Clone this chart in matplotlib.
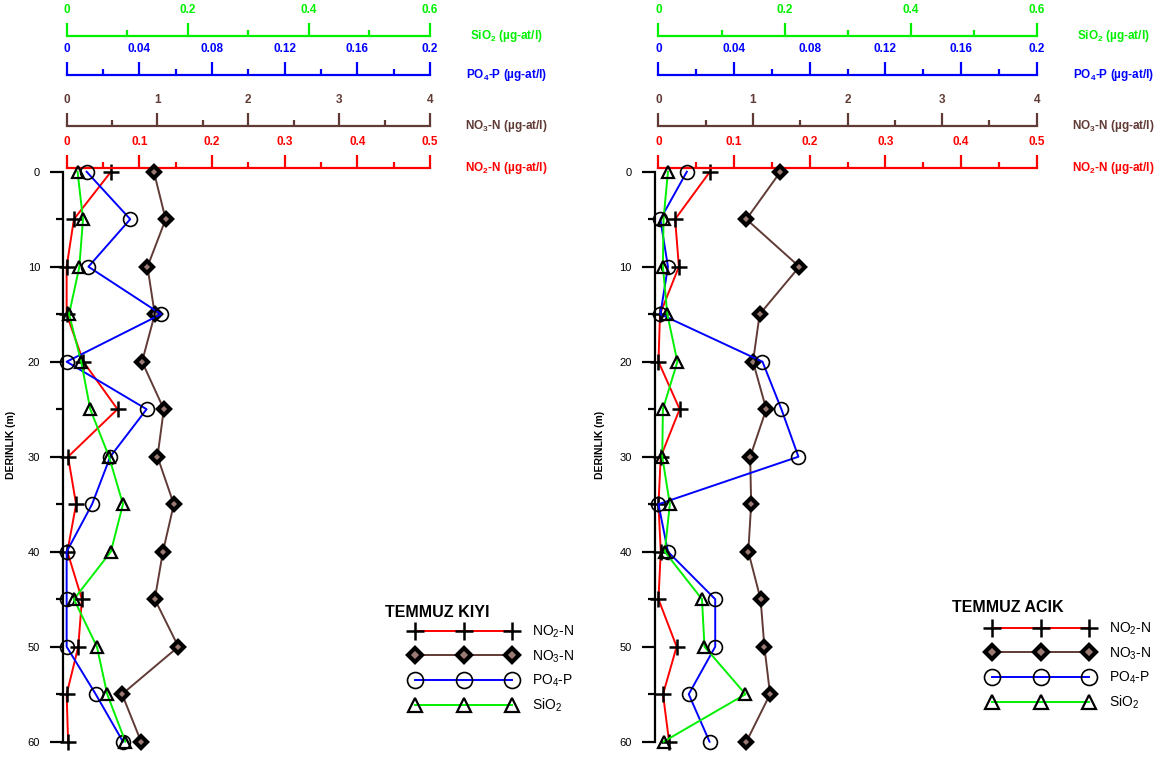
import matplotlib
matplotlib.use('Agg')
import matplotlib.pyplot as plt

plt.rcParams['font.family'] = ['Liberation Sans', 'DejaVu Sans']
plt.rcParams['mathtext.fontset'] = 'custom'
plt.rcParams['mathtext.rm'] = 'Liberation Sans'
plt.rcParams['mathtext.it'] = 'Liberation Sans:italic'
plt.rcParams['mathtext.bf'] = 'Liberation Sans:bold'

# derinlik (m)
depth = [0, 5, 10, 15, 20, 25, 30, 35, 40, 45, 50, 55, 60]

# TEMMUZ KIYI
kiyi_no2 = [0.061, 0.010, 0.000, 0.000, 0.023, 0.070, 0.002, 0.013, 0.001, 0.021, 0.016, 0.000, 0.002]
kiyi_no3 = [0.96, 1.09, 0.89, 0.97, 0.83, 1.07, 1.00, 1.18, 1.06, 0.97, 1.23, 0.61, 0.82]
kiyi_po4 = [0.011, 0.035, 0.012, 0.052, 0.000, 0.044, 0.024, 0.014, 0.000, 0.000, 0.000, 0.016, 0.031]
kiyi_sio2 = [0.018, 0.027, 0.021, 0.004, 0.024, 0.039, 0.070, 0.093, 0.073, 0.012, 0.050, 0.067, 0.097]

# TEMMUZ ACIK
acik_no2 = [0.068, 0.022, 0.027, 0.002, 0.000, 0.028, 0.003, 0.000, 0.003, 0.000, 0.024, 0.006, 0.014]
acik_no3 = [1.29, 0.93, 1.49, 1.07, 1.00, 1.14, 0.97, 0.98, 0.95, 1.08, 1.12, 1.18, 0.93]
acik_po4 = [0.015, 0.001, 0.005, 0.001, 0.055, 0.065, 0.074, 0.000, 0.005, 0.030, 0.030, 0.016, 0.027]
acik_sio2 = [0.015, 0.008, 0.007, 0.014, 0.030, 0.007, 0.006, 0.018, 0.010, 0.069, 0.073, 0.138, 0.008]

# eksen olcekleri
no2_ticks = [0, 0.1, 0.2, 0.3, 0.4, 0.5]
no2_labels = ['0', '0.1', '0.2', '0.3', '0.4', '0.5']
no3_ticks = [0, 1, 2, 3, 4]
no3_labels = ['0', '1', '2', '3', '4']
po4_ticks = [0, 0.04, 0.08, 0.12, 0.16, 0.2]
po4_labels = ['0', '0.04', '0.08', '0.12', '0.16', '0.2']
sio2_ticks = [0, 0.2, 0.4, 0.6]
sio2_labels = ['0', '0.2', '0.4', '0.6']
depth_ticks = [0, 10, 20, 30, 40, 50, 60]

RED = '#ff0000'
BROWN = '#603b36'
BLUE = '#0000ff'
GREEN = '#00f000'


def style_scale(ax, ticks, labels, color, offset):
    top = ticks[-1]
    ax.set_xlim(-0.0092 * top, top)
    for s in ['left', 'right', 'bottom']:
        ax.spines[s].set_visible(False)
    sp = ax.spines['top']
    sp.set_visible(True)
    sp.set_position(('outward', offset))
    sp.set_bounds(0, top)
    sp.set_color(color)
    sp.set_linewidth(1.6)
    ax.xaxis.set_ticks_position('top')
    ax.set_xticks(ticks)
    ax.set_xticklabels(labels, fontweight='bold')
    minors = [(a + b) / 2 for a, b in zip(ticks[:-1], ticks[1:])]
    ax.set_xticks(minors, minor=True)
    ax.tick_params(axis='x', which='major', direction='out', length=9.4, width=1.6,
                   color=color, labelcolor=color, labelsize=8.5, pad=5)
    ax.tick_params(axis='x', which='minor', direction='out', length=4.5, width=1.6,
                   color=color)


def panel(fig, rect, no2, no3, po4, sio2, title, title_xy, leg_xy):
    ax = fig.add_axes(rect)
    t_no3 = ax.twiny()
    t_po4 = ax.twiny()
    t_sio2 = ax.twiny()

    style_scale(ax, no2_ticks, no2_labels, RED, 0)
    style_scale(t_no3, no3_ticks, no3_labels, BROWN, 30.7)
    style_scale(t_po4, po4_ticks, po4_labels, BLUE, 67.2)
    style_scale(t_sio2, sio2_ticks, sio2_labels, GREEN, 95.3)

    # derinlik ekseni
    ax.set_ylim(60, -0.36)
    ax.spines['left'].set_visible(True)
    ax.spines['left'].set_bounds(0, 60)
    ax.spines['left'].set_linewidth(1.6)
    ax.set_yticks(depth_ticks)
    ax.set_yticklabels([str(d) for d in depth_ticks])
    ax.set_yticks([5, 15, 25, 35, 45, 55], minor=True)
    ax.tick_params(axis='y', which='major', direction='out', length=9.6, width=1.6,
                   labelsize=8, pad=7)
    ax.tick_params(axis='y', which='minor', direction='out', length=4.8, width=1.6)
    ax.set_ylabel('DERINLIK (m)', fontsize=7.5, fontweight='bold')
    ax.yaxis.set_label_coords(-0.13, 0.517)

    mk = dict(clip_on=False, markeredgecolor='black')
    l1, = ax.plot(no2, depth, color=RED, lw=1.4, marker='+', ms=11, mew=1.8, **mk)
    l2, = t_no3.plot(no3, depth, color=BROWN, lw=1.4, marker='D', ms=6.5, mew=3,
                     markerfacecolor='#9a7a72', **mk)
    l3, = t_po4.plot(po4, depth, color=BLUE, lw=1.4, marker='o', ms=10, mew=1.2,
                     markerfacecolor='none', **mk)
    l4, = t_sio2.plot(sio2, depth, color=GREEN, lw=1.4, marker='^', ms=9, mew=1.6,
                      markerfacecolor='none', **mk)

    # olcek etiketleri
    names = [(r'SiO$_\mathbf{2}$ (µg-at/l)', GREEN, 95.3),
             (r'PO$_\mathbf{4}$-P (µg-at/l)', BLUE, 67.2),
             (r'NO$_\mathbf{3}$-N (µg-at/l)', BROWN, 30.7),
             (r'NO$_\mathbf{2}$-N (µg-at/l)', RED, 0)]
    for txt, c, off in names:
        ax.annotate(txt, xy=(1, 1), xycoords='axes fraction', xytext=(55, off),
                    textcoords='offset points', ha='center', va='center',
                    color=c, fontsize=8.5, fontweight='bold', annotation_clip=False)

    fig.text(title_xy[0], title_xy[1], title, fontsize=11.5, fontweight='bold',
             ha='left', va='center')
    ax.legend([l1, l2, l3, l4], ['NO$_2$-N', 'NO$_3$-N', 'PO$_4$-P', 'SiO$_2$'],
              loc='upper left', bbox_to_anchor=leg_xy, bbox_transform=fig.transFigure,
              frameon=False, numpoints=3, fontsize=10, handlelength=7.6,
              handletextpad=1.15, labelspacing=0.57, borderpad=0, borderaxespad=0,
              markerscale=1.15)


def main():
    W, H = 1174, 758
    fig = plt.figure(figsize=(W / 100, H / 100), dpi=100)

    bottom = 1 - 741.7 / H
    height = (741.7 - 168.3) / H
    panel(fig, [63.3 / W, bottom, 366.7 / W, height],
          kiyi_no2, kiyi_no3, kiyi_po4, kiyi_sio2,
          'TEMMUZ KIYI', (385 / W, 1 - 612.7 / H), (410.8 / W, 1 - 624 / H))
    panel(fig, [655 / W, bottom, 381.7 / W, height],
          acik_no2, acik_no3, acik_po4, acik_sio2,
          'TEMMUZ ACIK', (951.7 / W, 1 - 608 / H), (987.8 / W, 1 - 621 / H))

    fig.savefig('out.png', dpi=100)


if __name__ == '__main__':
    main()
